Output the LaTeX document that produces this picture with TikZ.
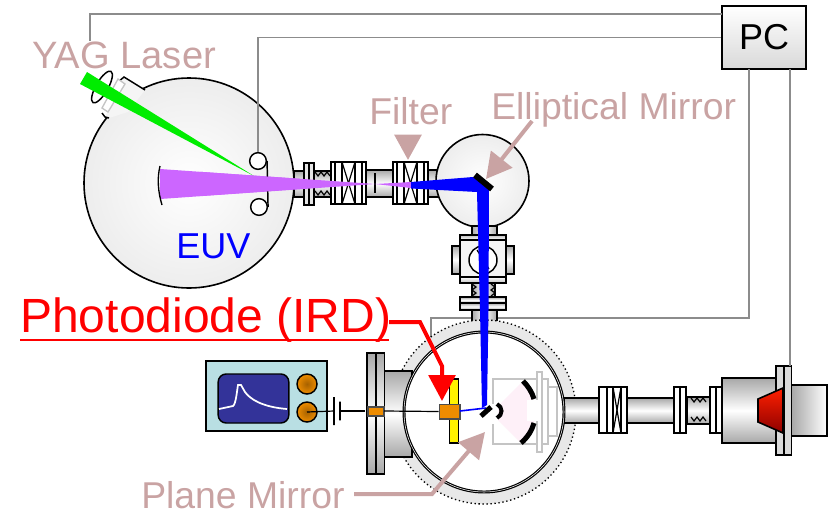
\documentclass[tikz,border=0pt]{standalone}
\usepackage{fontspec}
\setmainfont{Liberation Sans}
\usetikzlibrary{arrows.meta}
\definecolor{rose}{HTML}{C9A3A3}
\definecolor{tubegrey}{HTML}{A8A8A8}
\definecolor{wiregrey}{HTML}{8C8C8C}
\definecolor{paleline}{HTML}{C4C4C4}
\definecolor{amber}{HTML}{EE8C00}
\definecolor{scopeblue}{HTML}{B9DFE3}
\definecolor{screenblue}{HTML}{333399}
\definecolor{plum}{HTML}{CC66FF}
\begin{document}
\begin{tikzpicture}[x=0.75pt,y=-0.75pt,line join=miter,
		tube/.style={draw=black, line width=1.2pt, top color=tubegrey, bottom color=tubegrey, middle color=white},
		vtube/.style={draw=black, line width=1.2pt, left color=tubegrey, right color=tubegrey, middle color=white},
		plate/.style={draw=black, line width=1.2pt, fill=white},
		fine/.style={draw=black, line width=0.9pt},
		ghost/.style={draw=paleline, line width=1.5pt, fill=white},
		wire/.style={draw=wiregrey, line width=1.4pt},
		chamber/.style={circle, draw=black, line width=1.2pt, inner color=white, outer color=black!7, inner sep=0pt, minimum size=#1*0.75pt},
		lbl/.style={text=rose, inner sep=0pt, anchor=base west, font=\fontsize{28}{30}\selectfont},
		callout/.style={draw=rose, line width=3pt, -{Triangle[length=19pt,width=20pt,fill=rose]}},
		knob/.style={circle, draw=black, line width=1.1pt, inner color=amber!70!black, outer color=amber, inner sep=0pt, minimum size=15pt},
		amberbar/.style={draw=black!70, line width=1pt, fill=amber}]
	\useasboundingbox (0,0) rectangle (834,511);

	\node[draw=black, line width=1.4pt, top color=white, bottom color=black!15, minimum width=63pt, minimum height=47pt, inner sep=0pt, font=\fontsize{27}{30}\selectfont] (pc) at (764,37.5) {PC};
	\coordinate (pca) at (722,14);
	\coordinate (pcb) at (749,69);
	\coordinate (pcc) at (790,69);
	\coordinate (yagend) at (90,41);
	\coordinate (irdend) at (431,395);
	\coordinate (detend) at (790,366);
	\draw[wire] (pca) -| (yagend);
	\draw[wire] (pcb) |- (470,318) -| (irdend);

	\draw[tube] (294,171) rectangle (304,197);
	\draw[tube] (314,171) rectangle (331,197);
	\draw[tube] (366,170) rectangle (393,197);
	\draw[tube] (428,170) rectangle (442,197);
	\draw[fine] (375,173) -- (375,193);
	\foreach \fx in {304,309} \draw[plate, fill=black!10] (\fx,163) rectangle +(5,42);
	\foreach \zy in {172,191} \draw[fine] (315,\zy) -- ++(3,4) -- ++(3,-4) -- ++(3,4) -- ++(3,-4) -- ++(3,4);
	\foreach \vx in {331,393} {
		\draw[plate] (\vx,162) rectangle +(35,42);
		\foreach \dx in {4,11,24,31} \draw[fine] (\vx+\dx,162) -- (\vx+\dx,204);
		\draw[fine] (\vx+11,162) -- (\vx+24,204);
		\draw[fine] (\vx+24,162) -- (\vx+11,204);
	}

	\node[chamber=210] (yagchamber) at (189,183) {};
	\fill[black!4] (124,77) -- (145,90) -- (128,112) -- (109,118) -- (105,117) -- cycle;
	\draw[line width=1.1pt] (145,90) -- (124,77) -- (118,82);
	\draw[line width=1.1pt] (102,113) -- (105,117) -- (109,118);
	\draw[line width=1.1pt, rotate around={-30:(102,87)}] (102,87) ellipse (6 and 18);
	\draw[ghost, line width=1pt, fill=white] (118,79) -- (125,84) -- (108,112) -- (102,108) -- cycle;
	\node[chamber=93] (mirrorchamber) at (482.5,181) {};

	\draw[vtube] (472,226) rectangle (497,235);
	\draw[vtube] (472,283) rectangle (495,297);
	\draw[vtube] (472,310) rectangle (497,335);
	\foreach \zx in {472,491} \draw[fine] (\zx,284) -- ++(4,3) -- ++(-4,3) -- ++(4,3) -- ++(-4,3);
	\draw[tube] (452,246) rectangle (460,274);
	\draw[tube] (506,246) rectangle (514,274);
	\draw[plate, fill=black!4] (460,235) rectangle (506,283);
	\draw[plate, top color=black!25, bottom color=white] (460,235) rectangle (506,240);
	\draw[plate, top color=white, bottom color=black!25] (460,277) rectangle (506,283);
	\node[circle, draw=black, line width=1.1pt, fill=white, minimum size=21pt, inner sep=0pt] (crossview) at (483,260) {};
	\draw[fine] (477,250) -- (489,269);
	\draw[tube] (460,297) rectangle (506,303);
	\draw[tube] (460,303) rectangle (506,310);

	\node[circle, draw=black, dotted, line width=1pt, fill=black!9, minimum size=138pt, inner sep=0pt] (ring) at (484,412) {};
	\draw[tube] (384,371) rectangle (412,457);
	\foreach \fx in {367,376} \draw[tube] (\fx,353) rectangle +(8.5,121);
	\draw[tube] (564,398) rectangle (600,423);
	\draw[tube] (627,398) rectangle (674,423);
	\draw[tube] (687,397) rectangle (710,424);
	\foreach \zy in {398,417} \draw[fine] (691,\zy) -- ++(3,4) -- ++(3,-4) -- ++(3,4) -- ++(3,-4) -- ++(3,4);
	\draw[plate] (599,387) rectangle (627,433);
	\foreach \vx in {607,613,621} \draw[fine] (\vx,387) -- (\vx,433);
	\draw[fine] (613,387) -- (621,433);
	\draw[fine] (621,387) -- (613,433);
	\foreach \fx in {674,680,710,716} \draw[plate] (\fx,387) rectangle +(6,46);
	\draw[tube] (722,378) rectangle (776,443);
	\draw[draw=black, line width=1.2pt, left color=black!35, right color=white] (791,385) rectangle (827,436);
	\foreach \fx in {776,784} \draw[plate, fill=black!15] (\fx,366) rectangle +(7.5,89);
	\draw[draw=black, line width=1.2pt, top color=red!75!orange, bottom color=red!55!black] (758,399) -- (783,388) -- (783,433) -- (758,422) -- cycle;
	\draw[wire] (pcc) -- (detend);

	\node[circle, draw=black, line width=2.2pt, fill=white, minimum size=120pt, inner sep=0pt] (mainchamber) at (484,412) {};
	\draw[white, line width=0.4pt] (484,412) circle (80);
	\draw[ghost] (493,379) rectangle (537,444);
	\draw[ghost] (542,379) rectangle (548,444);
	\draw[ghost] (548,387) rectangle (557,436);
	\draw[ghost] (537,372) rectangle (542,452);
	\fill[magenta!6] (498,406) -- (523,381) .. controls (532,390) and (536,401) .. (535,411) .. controls (536,421) and (532,432) .. (521,443) -- (498,420) -- cycle;
	\fill[white] (527,400) rectangle (538,421);
	\fill[white] (490,404) rectangle (498,424);
	\draw[line width=3.8pt] (523,381) .. controls (528,386) and (532,392) .. (534,399);
	\draw[line width=3.8pt] (534,423) .. controls (532,430) and (528,437) .. (521,443);
	\draw[line width=3pt] (497,404) .. controls (503,407) and (503,415) .. (497,418);

	\node[draw=black, line width=1.2pt, fill=yellow, minimum width=7pt, minimum height=48pt, inner sep=0pt] (sensor) at (454,411) {};
	\draw[amberbar] (368,407) rectangle (384,416);
	\node[amberbar, minimum width=15.5pt, minimum height=11pt, inner sep=0pt] (diode) at (449.5,411.5) {};
	\draw[fine] (384,411) -- (diode.west);

	\node[draw=black, line width=1.1pt, fill=scopeblue, minimum width=90.75pt, minimum height=52.5pt, inner sep=0pt] (scope) at (266.5,396) {};
	\node[draw=black, line width=1.1pt, fill=screenblue, rounded corners=6pt, minimum width=53pt, minimum height=36.75pt, inner sep=0pt] (screen) at (253.5,398.5) {};
	\draw[white, line width=1.3pt] (219,409) -- (233,406) .. controls (236,404) and (237,390) .. (238,385) -- (241,385) -- (245,392) .. controls (250,399) and (262,407) .. (287,409);
	\node[knob] (knoba) at (307,384) {};
	\node[knob] (knobb) at (307,412) {};
	\node[draw=black, line width=1.4pt, minimum height=21pt, minimum width=0pt, inner sep=0pt] (capa) at (334,411) {};
	\node[draw=black, line width=1.4pt, minimum height=14pt, minimum width=0pt, inner sep=0pt] (capb) at (340,411) {};
	\coordinate (lead) at (365,411);
	\draw[fine] (knobb.center) -- (capa);
	\draw[fine] (capb) -- (lead);

	\fill[plum] (160,169) -- (375,184) -- (411,182) -- (411,188) -- (375,184) -- (160,199) -- cycle;
	\draw[line width=1pt] (160,166) .. controls (157,178) and (158,192) .. (162,205);
	\fill[green!93!black] (87,72) -- (80,84) -- (254,176) -- cycle;
	\node[circle, draw=black, line width=1.1pt, fill=white, minimum size=12.5pt, inner sep=0pt] (wheela) at (258,161) {};
	\node[circle, draw=black, line width=1.1pt, fill=white, minimum size=12.5pt, inner sep=0pt] (wheelb) at (259,207) {};
	\draw[line width=1.1pt] (wheela.east) -- (wheelb.east);
	\draw[wire] (pc.west) -| (wheela.north);
	\fill[plum] (200,171.8) -- (300,178.8) -- (300,189) -- (200,196) -- cycle;

	\fill[blue] (411,182) -- (473,177) -- (489,188) -- (488.5,310) -- (487,405) -- (482,408) -- (480,310) -- (477,192) -- (411,188.5) -- cycle;
	\draw[blue, line width=1.2pt] (460,411) -- (486,408);
	\draw[line width=4.5pt] (475,175) -- (492,189);
	\draw[line width=3.8pt] (481,416) -- (491,407);

	\node[lbl, font=\fontsize{28.6}{30}\selectfont] (yag) at (32,68) {YAG Laser};
	\node[lbl] (filter) at (369,124) {Filter};
	\node[lbl] (elliptical) at (491,119) {Elliptical Mirror};
	\node[lbl] (plane) at (141,508) {Plane Mirror};
	\node[text=blue, inner sep=0pt, anchor=base west, font=\fontsize{27}{30}\selectfont] (euv) at (176,258) {EUV};
	\node[text=red, inner sep=0pt, anchor=base west, font=\fontsize{36}{40}\selectfont] (ird) at (20,332) {Photodiode (IRD)};
	\coordinate (filtertip) at (408,160);
	\coordinate (elliptip) at (486,179);
	\coordinate (planetip) at (485,432);
	\coordinate (irdtip) at (442,401);
	\draw[callout, shorten <=12pt] (408,125) -- (filtertip);
	\draw[callout] (532,121) -- (elliptip);
	\draw[callout] (354,494) -- (432,494) -- (planetip);
	\draw[red, line width=1.6pt] (20,340) -- (389,340);
	\draw[draw=red, line width=3pt, -{Triangle[length=19.5pt,width=20pt,fill=red]}] (389,322) -- (420,322) -- (442,366) -- (irdtip);
\end{tikzpicture}
\end{document}
